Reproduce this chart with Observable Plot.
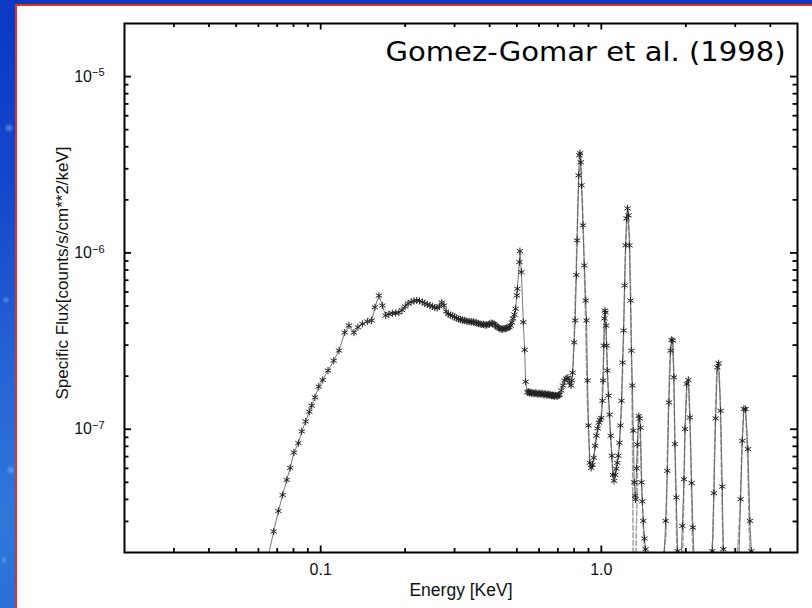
<!DOCTYPE html>
<html>
<head>
<meta charset="utf-8">
<script src="https://cdn.jsdelivr.net/npm/d3@7"></script>
<script src="https://cdn.jsdelivr.net/npm/@observablehq/plot@0.6"></script>
<style>
  html, body { margin: 0; padding: 0; width: 812px; height: 608px; overflow: hidden; }
  body {
    position: relative;
    background:
      radial-gradient(circle at 9px 128px, rgba(150,200,255,0.55) 0, rgba(150,200,255,0) 5px),
      radial-gradient(circle at 6px 300px, rgba(150,200,255,0.45) 0, rgba(150,200,255,0) 4px),
      radial-gradient(circle at 11px 470px, rgba(150,200,255,0.5) 0, rgba(150,200,255,0) 5px),
      radial-gradient(circle at 4px 560px, rgba(150,200,255,0.4) 0, rgba(150,200,255,0) 4px),
      linear-gradient(180deg, #0b39c2 0%, #1446cb 30%, #2563d3 60%, #2f78da 85%, #2a6ed6 100%);
  }
  #panel {
    position: absolute; left: 15px; top: 4px; width: 820px; height: 620px;
    background: #fff; border-left: 2.5px solid #e3321c; border-top: 2.5px solid #e3321c;
  }
  #chart { position: absolute; left: 0; top: 0; }
</style>
</head>
<body>
<div id="panel"></div>
<div id="chart"></div>
<script>
// Observed spectrum: photon energy (keV) and specific flux in units of 1e-7 counts/s/cm²/keV
const energy = [
  // soft rise
  0.0642, 0.0680, 0.0707, 0.0732, 0.0757, 0.0779, 0.0803, 0.0833, 0.0856, 0.0884,
  0.0911, 0.0929, 0.0954, 0.0984, 0.1017, 0.1062, 0.1113, 0.1162, 0.1218, 0.1261,
  0.1314, 0.1358, 0.1408, 0.1467, 0.1519, 0.1561, 0.1613, 0.1659, 0.1704,
  // 0.175 – 0.50 keV continuum
  0.175, 0.180, 0.185, 0.190, 0.195, 0.200, 0.205, 0.210, 0.215, 0.220,
  0.225, 0.230, 0.235, 0.240, 0.245, 0.250, 0.255, 0.260, 0.265, 0.270,
  0.275, 0.280, 0.285, 0.290, 0.295, 0.300, 0.305, 0.310, 0.315, 0.320,
  0.325, 0.330, 0.335, 0.340, 0.345, 0.350, 0.355, 0.360, 0.365, 0.370,
  0.375, 0.380, 0.385, 0.390, 0.395, 0.400, 0.405, 0.410, 0.415, 0.420,
  0.425, 0.430, 0.435, 0.440, 0.445, 0.450, 0.455, 0.460, 0.465, 0.470,
  0.475, 0.480, 0.485, 0.490, 0.495, 0.500,
  // feature near 0.51 keV
  0.5022, 0.5106, 0.5129, 0.5188, 0.5273, 0.5331, 0.5374, 0.5450,
  // plateau
  0.550, 0.555, 0.560, 0.565, 0.570, 0.575, 0.580, 0.585, 0.590, 0.595,
  0.600, 0.605, 0.610, 0.615, 0.620, 0.625, 0.630, 0.635, 0.640, 0.645,
  0.650, 0.655, 0.660, 0.665, 0.670, 0.675, 0.680, 0.685, 0.690, 0.695,
  0.700, 0.705, 0.710,
  // lines 0.72 – 1.46 keV
  0.720, 0.730, 0.740, 0.750, 0.760, 0.770, 0.780, 0.785, 0.790, 0.800,
  0.807, 0.815, 0.820, 0.830, 0.835, 0.840, 0.845, 0.850, 0.860, 0.870,
  0.880, 0.886, 0.893, 0.900, 0.910, 0.920, 0.930, 0.940, 0.950, 0.960,
  0.970, 0.980, 0.990, 1.000, 1.010, 1.015, 1.020, 1.025, 1.030, 1.035,
  1.040, 1.045, 1.050, 1.060, 1.070, 1.080, 1.090, 1.100, 1.110, 1.120,
  1.130, 1.140, 1.150, 1.160, 1.170, 1.180, 1.190, 1.200, 1.210, 1.220,
  1.230, 1.240, 1.250, 1.260, 1.270, 1.280, 1.290, 1.300, 1.310, 1.320,
  1.325, 1.335, 1.343, 1.360, 1.370, 1.380, 1.390, 1.400, 1.411, 1.425,
  1.438, 1.460,
  // hard lines
  1.550, 1.667, 1.695, 1.719, 1.741, 1.766, 1.780, 1.799, 1.814, 1.829,
  1.850, 1.870, 1.886, 1.917, 1.944, 1.970, 1.986, 2.014, 2.042, 2.069,
  2.098, 2.120, 2.150, 2.300, 2.452, 2.486, 2.518, 2.554, 2.590, 2.618,
  2.661, 2.698, 2.720, 2.750, 2.900, 3.084, 3.135, 3.179, 3.221, 3.266,
  3.329, 3.384, 3.423, 3.459, 3.800
];
const flux = [
  0.174, 0.263, 0.344, 0.424, 0.516, 0.604, 0.738, 0.835, 0.972, 1.107,
  1.257, 1.360, 1.516, 1.744, 1.904, 2.150, 2.450, 2.793, 3.535, 3.874,
  3.535, 3.789, 3.962, 4.083, 4.137, 4.920, 5.735, 5.031, 4.413,

  4.50, 4.55, 4.56, 4.59, 4.74, 4.97, 5.17, 5.27, 5.34, 5.37,
  5.34, 5.27, 5.17, 5.10, 5.03, 4.97, 4.90, 4.87, 4.97, 5.23,
  5.03, 4.65, 4.50, 4.44, 4.39, 4.33, 4.27, 4.22, 4.19, 4.16,
  4.14, 4.11, 4.08, 4.08, 4.06, 4.06, 4.03, 4.00, 3.98, 3.95,
  3.93, 3.93, 3.90, 3.90, 3.93, 3.95, 4.00, 3.98, 3.95, 3.87,
  3.82, 3.77, 3.72, 3.70, 3.70, 3.72, 3.72, 3.75, 3.77, 3.80,
  3.87, 4.03, 4.25, 4.47, 4.82, 5.74,

  6.26, 8.87, 10.24, 7.78, 4.05, 2.82, 1.86, 1.62,

  1.63, 1.61, 1.62, 1.60, 1.61, 1.59, 1.60, 1.61, 1.59, 1.58,
  1.60, 1.59, 1.58, 1.60, 1.58, 1.57, 1.59, 1.58, 1.56, 1.57,
  1.58, 1.56, 1.57, 1.55, 1.56, 1.55, 1.54, 1.56, 1.55, 1.54,
  1.55, 1.56, 1.57,

  1.66, 1.77, 1.89, 1.94, 1.96, 1.84, 1.77, 1.89, 2.09, 3.11,
  4.14, 7.50, 11.78, 27.56, 35.81, 36.75, 32.68, 24.19, 14.33, 8.49,
  5.37, 4.14, 1.89, 1.05, 0.645, 0.604, 0.628, 0.689, 0.806, 0.919,
  1.01, 1.09, 1.13, 1.16, 1.45, 1.89, 2.98, 4.25, 4.71, 4.59,
  3.87, 2.98, 2.15, 1.55, 1.21, 0.919, 0.707, 0.551, 0.510, 0.551,
  0.597, 0.645, 0.707, 0.838, 1.05, 1.45, 2.39, 3.63, 6.54, 11.03,
  15.70, 17.89, 16.34, 11.03, 5.37, 2.79, 1.77, 0.981, 0.50, 0.42,
  0.40, 0.60, 0.82, 1.19, 1.15, 1.02, 0.50, 0.39, 0.302, 0.24,
  0.209, 0.147,

  0.12, 0.157, 0.302, 0.581, 1.420, 2.793, 3.212, 3.183, 1.970, 0.824,
  0.410, 0.204, 0.157, 0.157, 0.283, 0.521, 1.003, 1.806, 1.904, 1.167,
  0.495, 0.277, 0.157, 0.12, 0.157, 0.204, 0.434, 1.152, 2.245, 2.365,
  1.274, 0.473, 0.209, 0.157, 0.12, 0.157, 0.401, 0.860, 1.302, 1.302,
  0.772, 0.302, 0.204, 0.157, 0.12
];

// Model line emission, same units
const modelEnergy = [
  0.76, 0.79, 0.80, 0.815, 0.83, 0.845, 0.86, 0.875, 0.89, 0.91,
  0.93, 0.95, 0.98, 1.00, 1.015, 1.03, 1.045, 1.07, 1.10, 1.13,
  1.16, 1.18, 1.20, 1.22, 1.24, 1.26, 1.275, 1.29, 1.30, 1.32,
  1.34, 1.355, 1.37, 1.39, 1.41, 1.44, 1.60, 1.70, 1.73, 1.76,
  1.785, 1.81, 1.835, 1.86, 1.90, 1.95, 1.985, 2.02, 2.05, 2.08,
  2.11, 2.14, 2.40, 2.50, 2.54, 2.58, 2.615, 2.65, 2.69, 2.73,
  3.00, 3.12, 3.17, 3.215, 3.27, 3.32, 3.37, 3.42, 3.80
];
const modelFlux = [
  1.95, 2.0, 3.3, 9.0, 26, 36, 16, 5.5, 1.6, 0.62,
  0.62, 0.78, 1.05, 1.15, 2.2, 4.6, 2.9, 1.1, 0.55, 0.60,
  0.80, 1.3, 3.4, 10.5, 17.6, 12, 5.0, 1.0, 0.15, 0.12,
  0.40, 1.15, 1.12, 0.55, 0.28, 0.15, 0.12, 0.25, 1.2, 2.9,
  3.25, 2.2, 0.6, 0.2, 0.12, 0.2, 0.9, 1.85, 1.8, 0.8,
  0.25, 0.12, 0.12, 0.25, 1.0, 2.2, 2.4, 1.6, 0.4, 0.15,
  0.12, 0.35, 0.8, 1.30, 1.25, 0.7, 0.25, 0.14, 0.12
];
const fluxUnit = 1e-7;

// Axis ticks and labels
const xMajorTicks = [0.1, 1];
const xTickLabels = ["0.1", "1.0"];
const xMinorTicks = [0.03, 0.04, 0.05, 0.06, 0.07, 0.08, 0.09,
                     0.2, 0.3, 0.4, 0.5, 0.6, 0.7, 0.8, 0.9, 2, 3, 4];
const yMajorTicks = [1e-7, 1e-6, 1e-5];
const yTickExponents = ["−7", "−6", "−5"];
const yMinorTicks = [3e-8, 4e-8, 5e-8, 6e-8, 7e-8, 8e-8, 9e-8,
                     2e-7, 3e-7, 4e-7, 5e-7, 6e-7, 7e-7, 8e-7, 9e-7,
                     2e-6, 3e-6, 4e-6, 5e-6, 6e-6, 7e-6, 8e-6, 9e-6];
const xTitle = "Energy [KeV]";
const yTitle = "Specific Flux[counts/s/cm**2/keV]";
const credit = "Gomez-Gomar et al. (1998)";

const spectrum = energy.map((e, i) => ({energy: e, flux: flux[i] * fluxUnit}));
const model = modelEnergy.map((e, i) => ({energy: e, flux: modelFlux[i] * fluxUnit}));

const sans = "'Liberation Sans', Arial, Helvetica, sans-serif";

// Plot geometry
const W = 812, H = 608;
const margin = {left: 124, right: 15, top: 23, bottom: 56};
const frameW = W - margin.left - margin.right;
const frameH = H - margin.top - margin.bottom;

// Inward ticks: rules inset so that only `len` pixels remain next to the frame edge
const tickStyle = {stroke: "#000", strokeWidth: 1.8};
const ticksX = (values, side, len) =>
  Plot.ruleX(values, {x: (d) => d, ...tickStyle,
    ...(side === "bottom" ? {insetTop: frameH - len} : {insetBottom: frameH - len})});
const ticksY = (values, side, len) =>
  Plot.ruleY(values, {y: (d) => d, ...tickStyle,
    ...(side === "left" ? {insetRight: frameW - len} : {insetLeft: frameW - len})});

const chart = Plot.plot({
  width: W,
  height: H,
  marginLeft: margin.left,
  marginRight: margin.right,
  marginTop: margin.top,
  marginBottom: margin.bottom,
  style: {background: "transparent", fontFamily: sans, fontSize: "16px", color: "#111"},
  x: {type: "log", domain: [0.02, 5]},
  y: {type: "log", domain: [2e-8, 2e-5]},
  marks: [
    // model (grey dashed)
    Plot.line(model, {x: "energy", y: "flux", stroke: "#a0a0a0", strokeWidth: 1.5,
      strokeDasharray: "5,2.5", clip: true}),
    // observed spectrum with asterisk markers
    Plot.line(spectrum, {x: "energy", y: "flux", stroke: "#555", strokeWidth: 0.8, clip: true}),
    Plot.dot(spectrum, {x: "energy", y: "flux", symbol: "asterisk", r: 3.4,
      stroke: "#222", strokeWidth: 1, clip: true}),

    // inward ticks on all four sides
    ticksX(xMajorTicks, "bottom", 6.5),
    ticksX(xMinorTicks, "bottom", 4),
    ticksX(xMajorTicks, "top", 6.5),
    ticksX(xMinorTicks, "top", 4),
    ticksY(yMajorTicks, "left", 7),
    ticksY(yMinorTicks, "left", 4.5),
    ticksY(yMajorTicks, "right", 7),
    ticksY(yMinorTicks, "right", 4.5),

    // tick labels
    Plot.axisX(xMajorTicks, {anchor: "bottom", tickSize: 0, tickPadding: 11, label: null,
      tickFormat: (d) => xTickLabels[xMajorTicks.indexOf(d)]}),
    Plot.axisY(yMajorTicks, {anchor: "left", tickSize: 0, tickPadding: 20, label: null,
      tickFormat: (d) => yTickExponents[yMajorTicks.indexOf(d)]}),

    // axis titles
    Plot.text([xTitle], {frameAnchor: "bottom", dy: 38, lineAnchor: "middle",
      fontSize: 17.5, fill: "#111"}),
    Plot.text([yTitle], {frameAnchor: "left", dx: -62, dy: -15, rotate: -90,
      textAnchor: "middle", lineAnchor: "middle", fontSize: 17, fill: "#111"}),

    // credit
    Plot.text([credit], {frameAnchor: "top-right", dx: -12, dy: 29, textAnchor: "end",
      lineAnchor: "middle", fontSize: 27, fill: "#000",
      fontFamily: "'Comic Sans MS', 'DejaVu Sans', sans-serif"}),

    Plot.frame({stroke: "#000", strokeWidth: 2})
  ]
});

document.getElementById("chart").appendChild(chart);

const svg = d3.select(chart);
// tick label sizes
svg.selectAll('g[aria-label="x-axis tick label"]').attr("font-size", 16);
svg.selectAll('g[aria-label="y-axis tick label"]').attr("font-size", 16);
// y tick labels: 10 with a raised exponent
svg.selectAll('g[aria-label="y-axis tick label"] text').each(function () {
  const exp = this.textContent;
  if (!exp) return;
  const t = d3.select(this);
  t.text("10");
  t.append("tspan").attr("dy", "-0.5em").attr("font-size", "11px").text(exp);
});
// credit spans the same width as the original lettering
svg.selectAll("text").filter(function () { return this.textContent === credit; })
  .attr("textLength", 400).attr("lengthAdjust", "spacingAndGlyphs");
</script>
</body>
</html>
